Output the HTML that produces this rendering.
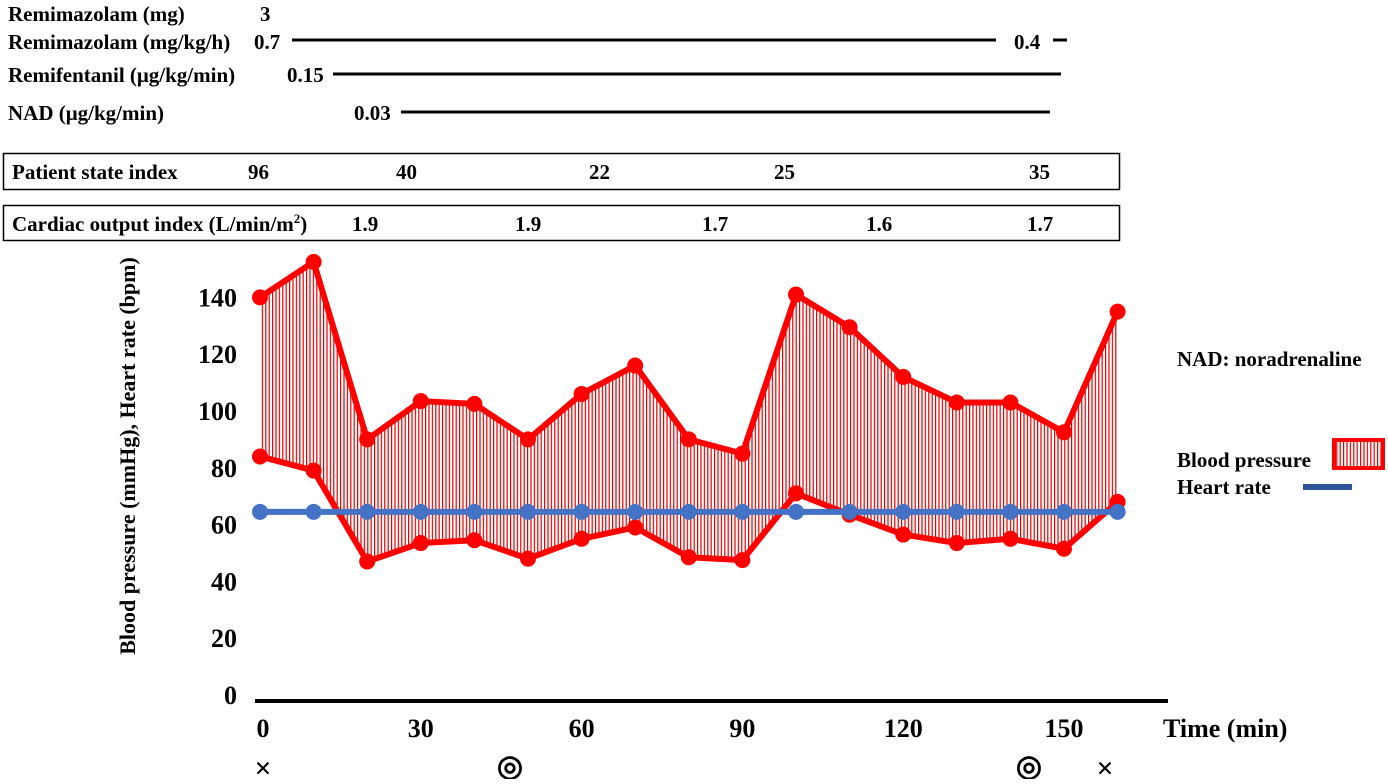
<!DOCTYPE html>
<html><head><meta charset="utf-8"><style>
html,body{margin:0;padding:0;background:#fff;}
svg text{font-family:"Liberation Serif",serif;font-weight:bold;fill:#000;}
</style></head><body>
<svg width="1388" height="779" viewBox="0 0 1388 779" xmlns="http://www.w3.org/2000/svg">
<defs>
<pattern id="hatch" width="3.4" height="10" patternUnits="userSpaceOnUse">
<rect x="0" y="0" width="1.2" height="10" fill="#e00000"/>
</pattern>
</defs>
<g font-size="21">
<text x="8" y="21">Remimazolam (mg)</text>
<text x="260" y="21">3</text>
<text x="8" y="49">Remimazolam (mg/kg/h)</text>
<text x="254" y="49">0.7</text>
<line x1="292" y1="40" x2="996" y2="40" stroke="#000" stroke-width="3"/>
<text x="1014" y="49">0.4</text>
<line x1="1053" y1="40" x2="1067" y2="40" stroke="#000" stroke-width="3"/>
<text x="8" y="82">Remifentanil (μg/kg/min)</text>
<text x="287" y="82">0.15</text>
<line x1="333" y1="74" x2="1061" y2="74" stroke="#000" stroke-width="3"/>
<text x="8" y="120">NAD (μg/kg/min)</text>
<text x="354" y="120">0.03</text>
<line x1="401" y1="112" x2="1050" y2="112" stroke="#000" stroke-width="3"/>
</g>
<g font-size="21">
<rect x="3.5" y="153.5" width="1116" height="36" fill="none" stroke="#000" stroke-width="1.5"/>
<text x="12" y="179">Patient state index</text>
<text x="248" y="179">96</text>
<text x="396" y="179">40</text>
<text x="589" y="179">22</text>
<text x="774" y="179">25</text>
<text x="1029" y="179">35</text>
<rect x="3.5" y="205.5" width="1116" height="35" fill="none" stroke="#000" stroke-width="1.5"/>
<text x="12" y="231">Cardiac output index (L/min/m<tspan font-size="13" dy="-8">2</tspan><tspan dy="8">)</tspan></text>
<text x="352" y="231">1.9</text>
<text x="515" y="231">1.9</text>
<text x="702" y="231">1.7</text>
<text x="866" y="231">1.6</text>
<text x="1027" y="231">1.7</text>
</g>
<text transform="translate(135,456) rotate(-90)" text-anchor="middle" font-size="22">Blood pressure (mmHg), Heart rate (bpm)</text>
<g id="yticks" font-size="26" text-anchor="end"></g>
<g id="xticks" font-size="26" text-anchor="middle"></g>
<line x1="255" y1="701" x2="1168" y2="701" stroke="#000" stroke-width="4"/>
<text x="1163" y="737" font-size="26">Time (min)</text>
<g id="plot"></g>
<g font-size="30" fill="#000" text-anchor="middle">
<text x="263" y="778">×</text>
<text x="1105" y="778">×</text>
<text x="510" y="776">◎</text>
<text x="1029" y="776">◎</text>
</g>
<text x="1177" y="366" font-size="21">NAD: noradrenaline</text>
<text x="1177" y="467" font-size="21">Blood pressure</text>
<rect x="1334" y="440" width="49" height="28" fill="url(#hatch)" stroke="#f00" stroke-width="4"/>
<text x="1177" y="494" font-size="21">Heart rate</text>
<line x1="1303" y1="487" x2="1352" y2="487" stroke="#2e5597" stroke-width="6"/>
</svg>
<script>
const times=[0,10,20,30,40,50,60,70,80,90,100,110,120,130,140,150,160];
const systolic=[140,152.5,90,103.5,102.5,90,106,116,90,85,141,129.5,112,103,103,92.5,135];
const diastolic=[84,79,47,53.5,54.5,48,55,59,48.5,47.5,71,63.5,56.5,53.5,55,51.5,68];
const heartRate=[64.5,64.5,64.5,64.5,64.5,64.5,64.5,64.5,64.5,64.5,64.5,64.5,64.5,64.5,64.5,64.5,64.5];
const yTicks=[0,20,40,60,80,100,120,140];
const xTicks=[0,30,60,90,120,150];
const NS="http://www.w3.org/2000/svg";
function xs(t){return 260+t*5.36;}
function ys(v){return 695-v*2.84;}
function mk(tag,attrs,parent){const e=document.createElementNS(NS,tag);for(const k in attrs)e.setAttribute(k,attrs[k]);parent.appendChild(e);return e;}
const yg=document.getElementById('yticks');
yTicks.forEach(v=>{const t=mk('text',{x:237,y:ys(v)+9},yg);


t.textContent=v;});
const xg=document.getElementById('xticks');
xTicks.forEach(v=>{const t=mk('text',{x:xs(v)+(v===0?3:0),y:737},xg);


t.textContent=v;});
const p=document.getElementById('plot');
let up=times.map((t,i)=>xs(t)+','+ys(systolic[i]));
let dn=times.map((t,i)=>xs(t)+','+ys(diastolic[i])).reverse();
const area=mk('polygon',{points:up.concat(dn).join(' '),fill:'url(#hatch)'},p);


const sl=mk('polyline',{points:up.join(' '),fill:'none',stroke:'#f00','stroke-width':6,'stroke-linejoin':'round'},p);


const dl=mk('polyline',{points:times.map((t,i)=>xs(t)+','+ys(diastolic[i])).join(' '),fill:'none',stroke:'#f00','stroke-width':6,'stroke-linejoin':'round'},p);


times.forEach((t,i)=>{
const a=mk('circle',{cx:xs(t),cy:ys(systolic[i]),r:8,fill:'#f00'},p);


const b=mk('circle',{cx:xs(t),cy:ys(diastolic[i]),r:8,fill:'#f00'},p);


});
const hl=mk('polyline',{points:times.map((t,i)=>xs(t)+','+ys(heartRate[i])).join(' '),fill:'none',stroke:'#4472c4','stroke-width':6},p);


times.forEach((t,i)=>{
const c=mk('circle',{cx:xs(t),cy:ys(heartRate[i]),r:8,fill:'#4472c4'},p);


});
</script>
</body></html>
